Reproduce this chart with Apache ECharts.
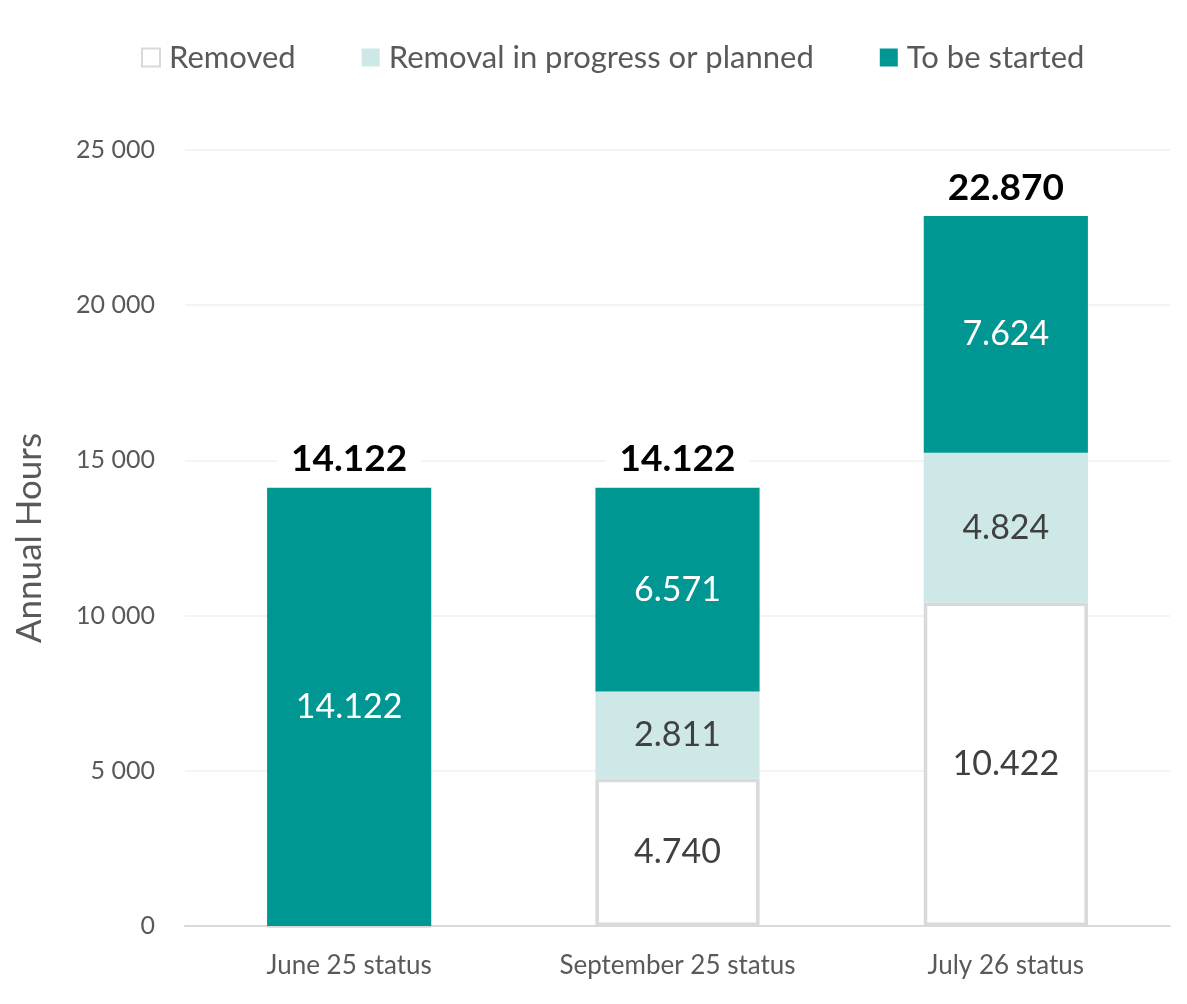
<!DOCTYPE html>
<html>
<head>
<meta charset="utf-8">
<script src="https://cdn.jsdelivr.net/npm/echarts@6/dist/echarts.min.js"></script>
<style>
  html, body { margin: 0; padding: 0; background: #fff; }
  #main { width: 1187px; height: 1004px; }
</style>
</head>
<body>
<div id="main"></div>
<script>
// categories and values
var categories = ['June 25 status', 'September 25 status', 'July 26 status'];
var removed = [0, 4740, 10422];
var inProgress = [0, 2811, 4824];
var toBeStarted = [14122, 6571, 7624];
var totals = [14122, 14122, 22870];
var yTicks = [0, 5000, 10000, 15000, 20000, 25000];

// 14122 -> "14.122"
function dotThousands(v) {
	return String(v).replace(/\B(?=(\d{3})+(?!\d))/g, '.');
}
// 25000 -> "25 000"
function spaceThousands(v) {
	return String(v).replace(/\B(?=(\d{3})+(?!\d))/g, ' ');
}

var font = 'Lato, "Open Sans", sans-serif';
var myChart = echarts.init(document.getElementById('main'));

var option = {
	animation: false,
	textStyle: { fontFamily: font },
	legend: {
		data: ['Removed', 'Removal in progress or planned', 'To be started'],
		top: 37,
		left: 136,
		icon: 'rect',
		itemWidth: 18,
		itemHeight: 18,
		itemGap: 66,
		textStyle: { fontSize: 31, color: '#595959', fontFamily: font, padding: [0, 0, 0, 4] }
	},
	grid: { left: 185, right: 17, top: 150, bottom: 78, outerBoundsMode: 'none', containLabel: false },
	xAxis: {
		type: 'category',
		data: categories,
		axisTick: { show: false },
		axisLine: { lineStyle: { color: '#d9d9d9', width: 2 } },
		axisLabel: { fontSize: 26, color: '#595959', margin: 27, fontFamily: font }
	},
	yAxis: {
		type: 'value',
		min: yTicks[0],
		max: yTicks[yTicks.length - 1],
		interval: 5000,
		name: 'Annual Hours',
		nameLocation: 'middle',
		nameGap: 138,
		nameTextStyle: { fontSize: 35, color: '#595959', fontFamily: font },
		axisLine: { show: false },
		axisTick: { show: false },
		splitLine: { lineStyle: { color: '#f0f0f0', width: 1.5 } },
		axisLabel: {
			fontSize: 25, color: '#595959', margin: 30, fontFamily: font,
			formatter: function (v) { return spaceThousands(v); }
		}
	},
	series: [{
		name: 'Removed',
		type: 'bar',
		stack: 'total',
		barWidth: '50%',
		data: removed,
		itemStyle: { color: '#ffffff', borderColor: '#d9d9d9', borderWidth: 3.5 },
		label: {
			show: true, position: 'inside', fontSize: 34, color: '#404040', fontFamily: font,
			formatter: function (p) { return p.value ? dotThousands(p.value) : ''; }
		}
	}, {
		name: 'Removal in progress or planned',
		type: 'bar',
		stack: 'total',
		data: inProgress,
		itemStyle: { color: '#cde8e7' },
		label: {
			show: true, position: 'inside', fontSize: 34, color: '#404040', fontFamily: font,
			formatter: function (p) { return p.value ? dotThousands(p.value) : ''; }
		}
	}, {
		name: 'To be started',
		type: 'bar',
		stack: 'total',
		data: toBeStarted,
		itemStyle: { color: '#009692' },
		label: {
			show: true, position: 'inside', fontSize: 34, color: '#ffffff', fontFamily: font,
			formatter: function (p) { return dotThousands(p.value); }
		}
	}, {
		name: 'Total',
		type: 'bar',
		stack: 'total',
		data: [0, 0, 0],
		itemStyle: { color: 'transparent' },
		label: {
			show: true, position: 'top', distance: 8,
			fontSize: 37, fontWeight: 'bold', color: '#000000', fontFamily: font,
			backgroundColor: '#ffffff', padding: [2, 14],
			formatter: function (p) { return dotThousands(totals[p.dataIndex]); }
		}
	}]
};

myChart.setOption(option);
</script>
</body>
</html>
